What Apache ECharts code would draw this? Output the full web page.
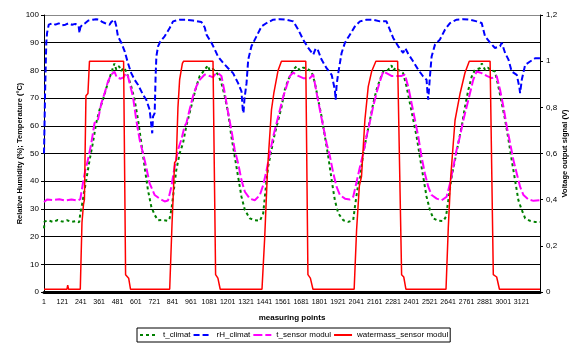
<!DOCTYPE html>
<html><head><meta charset="utf-8">
<script src="https://cdn.jsdelivr.net/npm/echarts@6/dist/echarts.min.js"></script>
<style>html,body{margin:0;padding:0;background:#fff}#c{width:571px;height:345px}</style>
</head><body><div id="c"></div>
<script>
// x-axis tick labels (measuring points)
const xTickLabels = ['1','121','241','361','481','601','721','841','961','1081','1201','1321','1441','1561','1681','1801','1921','2041','2161','2281','2401','2521','2641','2761','2881','3001','3121'];
const rightTicks = ['0','0,2','0,4','0,6','0,8','1','1,2'];

// [measuring point index, value]
const tClimat = [[0,23],[4,25.5],[30,25.8],[60,25.3],[90,26],[120,25.4],[150,25.9],[180,25.3],[210,25.6],[230,25.2],[237,28.4],[247,31],[262,36],[276,40.4],[298,47.7],[319,53.7],[341,61],[363,65.8],[385,69.4],[407,73.6],[428,77.2],[446,80.2],[460,82.5],[472,80.3],[490,81.5],[505,79.8],[520,81],[533,80],[548,78],[570,74.2],[592,69.4],[614,62.2],[636,53.7],[657,45.2],[679,36.8],[701,30.8],[723,27.8],[745,25.9],[777,26],[810,25.7],[820,26.5],[832,29.6],[843,34.4],[864,44],[886,50],[908,53.7],[930,60],[951,64.6],[973,69.4],[995,74.2],[1017,78],[1050,80.2],[1070,81.8],[1082,80],
[1104,80.5],[1137,78.5],[1159,75.4],[1181,70.6],[1203,64.6],[1224,56.1],[1246,48.9],[1268,41.6],[1290,34.4],[1312,29.6],[1344,26.6],[1377,25.9],[1410,25.7],[1432,28.4],[1447,36.8],[1464,45.2],[1486,51.3],[1508,57.3],[1530,62],[1552,66.9],[1573,73],[1595,76.6],[1628,80.2],[1650,81.5],[1671,80],[1693,81],[1715,80.8],[1748,79.6],[1770,75.4],[1791,69.4],[1813,63.4],[1835,56.1],[1857,48.9],[1879,40.4],[1900,33.1],[1922,28.4],[1955,25.9],[1988,25.3],[2020,26],[2031,30.8],[2053,39.2],[2063,40.4],[2085,50],[2107,56.1],[2129,62],[2150,68],[2172,73],[2194,76.6],[2216,79.6],[2248,80.2],[2270,81.8],[2281,80],[2300,81],[2314,80.2],[2346,79],[2368,74.2],[2390,68.2],[2412,62.2],[2434,56.1],[2455,48.9],[2477,41.6],[2499,34.4],[2521,29.6],[2543,26.6],[2575,25.7],[2608,25.6],[2626,27.2],[2641,33.1],[2663,41.6],[2685,47.7],[2706,53.7],[2728,59.7],[2750,66.9],[2772,73],[2794,77.8],[2815,80.2],[2848,80.8],[2860,82.5],[2881,80.2],[2900,81],[2914,80.2],[2946,79.6],[2968,74.2],[2990,68.2],[3012,62.2],[3034,55],[3055,47.7],[3077,40.4],[3099,33.1],[3121,29.6],[3143,26.6],[3175,25.7],[3208,25.3],[3240,25.3]];

const rhClimat = [[0,50],[2,56],[7,71.8],[15,90],[20,93.5],[31,96.5],[53,97],[75,96.5],[96,97],[118,96.3],[140,96.5],[160,97],[183,96.5],[205,96.8],[226,96],[232,93.5],[237,95.5],[250,96.5],[270,97.1],[290,98],[319,98.3],[340,98.5],[363,98.3],[380,97.5],[396,97.1],[428,96.5],[440,97.5],[450,98],[461,98.3],[472,96],[483,92.3],[505,90],[527,86.9],[548,82.7],[570,79],[592,76.6],[614,74.8],[647,71.2],[668,69.4],[690,65.8],[707,57.3],[712,63.3],[723,64.6],[729,77.8],[734,85],[745,88.7],[760,90.5],[788,92.3],[821,95.3],[843,97.7],[886,98.3],[930,98.3],[973,98],[1028,97.5],[1050,95.5],[1061,93],[1082,91],[1094,90],
[1116,87.5],[1137,85],[1170,82.7],[1203,80.8],[1235,79],[1268,75.4],[1290,72.4],[1298,66],[1303,64.6],[1310,70],[1323,75.4],[1334,83.9],[1355,88.7],[1388,92.3],[1421,95.9],[1454,97.1],[1497,98.3],[1541,98.5],[1584,98.3],[1628,97.7],[1661,94.7],[1693,91.1],[1726,88.1],[1759,85.7],[1775,88],[1791,87.1],[1813,83.9],[1846,80.8],[1879,78.4],[1900,73],[1905,69.4],[1912,75],[1922,79],[1944,86.3],[1966,90],[1998,92.9],[2031,95.9],[2064,97.7],[2107,98.3],[2150,98.3],[2194,97.7],[2237,97.7],[2259,94.7],[2281,91.7],[2314,88.7],[2346,86.3],[2360,88],[2379,86],[2412,83.2],[2445,80.2],[2477,77.8],[2499,76.6],[2505,72],[2510,69.4],[2521,77.8],[2532,85],[2554,89.3],[2586,91.1],[2619,94.7],[2652,97.1],[2695,98.3],[2739,98.5],[2783,98.3],[2826,97.7],[2859,97.1],[2881,92.3],[2914,90],[2946,88.1],[2979,88.7],[2990,90],[3012,86.3],[3034,83.9],[3055,79.6],[3088,78.4],[3105,74],[3110,71.8],[3121,76.6],[3143,82],[3175,83.2],[3208,84.4],[3240,84.4]];

const tSensor = [[0,32.5],[20,33.4],[60,33.2],[100,33.5],[140,33],[180,33.4],[220,33],[237,33.5],[254,39.2],[270,44],[287,47.7],[309,53.7],[330,61],[352,62],[374,68],[396,71.8],[418,76],[439,78.5],[461,79.5],[475,77.5],[500,77],[520,77.5],[535,79],[548,78],[570,73],[581,70.6],[603,62],[625,54.9],[647,50],[668,45],[690,39.2],[723,35],[755,33.7],[788,32.7],[810,33],[832,38],[853,45.2],[875,51.3],[897,55],[919,60],[930,60.9],[951,65.8],[973,70.6],[995,74.2],[1017,76.6],[1050,78.5],[1082,78],
[1104,77.5],[1116,78.5],[1137,79],[1159,78],[1181,71.8],[1203,64.6],[1224,58.5],[1246,51.3],[1268,46.5],[1290,40.4],[1312,36.2],[1344,33.7],[1377,33.1],[1410,35],[1432,38.6],[1454,44],[1475,50],[1497,56.1],[1519,60.9],[1541,65.8],[1563,70.6],[1584,74.2],[1606,78],[1628,79.2],[1661,78],[1693,77.2],[1737,77.2],[1759,78.5],[1781,71.8],[1802,65.8],[1824,59.7],[1846,53.7],[1868,48.9],[1890,42.8],[1911,38],[1933,35],[1966,33.7],[1998,33.4],[2020,34.4],[2042,39.8],[2064,45.2],[2085,50],[2107,56.1],[2129,61.5],[2150,66.9],[2172,71.8],[2194,76],[2216,79.6],[2237,79],[2270,78],[2303,78],[2336,78],[2357,78.5],[2379,74.2],[2401,68.2],[2423,62.2],[2445,56.1],[2466,48.9],[2488,42.8],[2510,38],[2532,35],[2565,33.7],[2597,33.1],[2630,34.4],[2652,39.2],[2674,45.2],[2695,51.3],[2717,56.1],[2739,62],[2761,66.9],[2783,71.8],[2804,76.6],[2826,79.6],[2859,79],[2892,78],[2925,77.2],[2957,78],[2979,73],[3001,66.9],[3023,59.7],[3045,53.7],[3066,47.7],[3088,42.8],[3110,38],[3132,35],[3165,33.4],[3197,32.9],[3240,33.1]];

// watermass sensor output (V, right axis)
const watermass = [[0,0.012],[150,0.012],[155,0.03],[160,0.012],[237,0.012],[248,0.30],[258,0.38],[264,0.40],[274,0.85],[287,0.86],[297,1.0],[520,1.0],[533,0.075],[553,0.06],[565,0.012],
[821,0.012],[836,0.29],[853,0.56],[864,0.57],[875,0.80],[886,0.92],[904,0.99],[912,1.0],[1104,1.0],[1121,0.075],[1136,0.06],[1151,0.012],
[1424,0.012],[1442,0.24],[1460,0.53],[1486,0.79],[1501,0.86],[1529,0.96],[1551,1.0],[1710,1.0],[1724,0.075],[1740,0.06],[1757,0.012],
[2026,0.012],[2042,0.27],[2060,0.46],[2074,0.5],[2096,0.744],[2118,0.89],[2140,0.955],[2168,1.0],[2310,1.0],[2336,0.075],[2350,0.065],[2364,0.012],
[2626,0.012],[2641,0.28],[2657,0.5],[2685,0.744],[2718,0.86],[2750,0.95],[2778,1.0],[2914,1.0],[2935,0.075],[2957,0.065],[2975,0.012],[3240,0.012]];

const seriesNames = ['t_climat','rH_climat','t_sensor modul','watermass_sensor modul'];

const chart = echarts.init(document.getElementById('c'), null, {renderer:'canvas'});
const FONT = 'Liberation Sans, Arial, sans-serif';
const gridColors = ['#000','#000','#000','#000','#000','#000','#000','#000','#000','#000','#888'];
chart.setOption({
  animation:false,
  backgroundColor:'#fff',
  textStyle:{fontFamily:FONT, color:'#000'},
  grid:{left:44, right:31, top:15, bottom:53, containLabel:false, outerBoundsMode:'none'},
  legend:{
    data:seriesNames, left:137, top:328, padding:[3,2], itemGap:2, itemWidth:18, itemHeight:8,
    borderColor:'#000', borderWidth:1, backgroundColor:'#fff',
    itemStyle:{opacity:0},
    textStyle:{fontSize:8, fontFamily:FONT, color:'#000'}
  },
  xAxis:{
    type:'value', min:0, max:3240, interval:120,
    name:'measuring points', nameLocation:'middle', nameGap:22, nameMoveOverlap:false,
    nameTextStyle:{fontSize:8, fontWeight:'bold', fontFamily:FONT, color:'#000'},
    axisLine:{show:true, onZero:false, lineStyle:{color:'#000', width:3}},
    axisTick:{show:false},
    splitLine:{show:false},
    axisLabel:{fontSize:7, color:'#000', margin:7, showMaxLabel:false,
      formatter:(v)=> xTickLabels[Math.round(v/120)] || ''}
  },
  yAxis:[{
    type:'value', min:0, max:100, interval:10, position:'left',
    name:'Relative Humidity (%); Temperature (°C)', nameLocation:'middle', nameGap:20, nameRotate:90, nameMoveOverlap:false,
    nameTextStyle:{fontSize:7.5, fontWeight:'bold', fontFamily:FONT, color:'#000'},
    axisLine:{show:true, lineStyle:{color:'#000', width:1}},
    axisTick:{show:true, length:3, lineStyle:{color:'#000'}},
    axisLabel:{fontSize:8, color:'#000', margin:5},
    splitLine:{show:true, lineStyle:{color:gridColors, width:1}}
  },{
    type:'value', min:0, max:1.2, interval:0.2, position:'right',
    name:'Voltage output signal (V)', nameLocation:'middle', nameGap:21, nameRotate:90, nameMoveOverlap:false,
    nameTextStyle:{fontSize:7.5, fontWeight:'bold', fontFamily:FONT, color:'#000'},
    axisLine:{show:true, lineStyle:{color:'#000', width:1}},
    axisTick:{show:true, length:3, lineStyle:{color:'#000'}},
    axisLabel:{fontSize:8, color:'#000', margin:6,
      formatter:(v)=> rightTicks[Math.round(v/0.2)]},
    splitLine:{show:false}
  }],
  series:[
    {name:seriesNames[0], type:'line', yAxisIndex:0, data:tClimat, symbol:'none', showSymbol:false,
     lineStyle:{color:'#008000', width:2, type:[3,3]}, itemStyle:{color:'#008000'}},
    {name:seriesNames[1], type:'line', yAxisIndex:0, data:rhClimat, symbol:'none', showSymbol:false,
     lineStyle:{color:'#0000ff', width:2, type:[6,3]}, itemStyle:{color:'#0000ff'}},
    {name:seriesNames[2], type:'line', yAxisIndex:0, data:tSensor, symbol:'none', showSymbol:false,
     lineStyle:{color:'#ff00ff', width:2, type:[9,3]}, itemStyle:{color:'#ff00ff'}},
    {name:seriesNames[3], type:'line', yAxisIndex:1, data:watermass, symbol:'none', showSymbol:false,
     lineStyle:{color:'#ff0000', width:1.5, type:'solid'}, itemStyle:{color:'#ff0000'}}
  ]
});
</script></body></html>
